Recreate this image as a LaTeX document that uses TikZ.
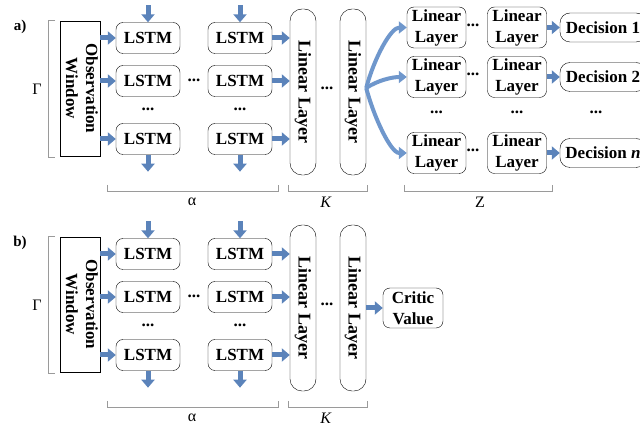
\documentclass[tikz,border=0pt]{standalone}
\usepackage{fontspec}
\setmainfont{Liberation Serif}
\usetikzlibrary{arrows.meta,positioning}
\definecolor{flowblue}{HTML}{5B83BA}
\definecolor{fanblue}{HTML}{6F97CC}
\definecolor{bracegray}{HTML}{9A9A9A}

\begin{document}
\begin{tikzpicture}[x=1pt,y=-1pt,>=Stealth,
 font=\fontsize{17}{20}\selectfont\bfseries,
 cell/.style={draw,rounded corners=7pt,minimum width=64pt,minimum height=31pt,
 inner sep=0pt},
 window/.style={draw,minimum width=40pt,minimum height=135pt,inner sep=0pt},
 tall/.style={draw,rounded corners=12pt,minimum width=26pt,minimum height=166pt,
 inner sep=0pt,font=\fontsize{18}{20}\selectfont\bfseries},
 head/.style={draw,rounded corners=7pt,align=center,minimum width=59pt,
 minimum height=41pt,inner sep=0pt,font=\fontsize{17}{21}\selectfont\bfseries},
 choice/.style={draw,rounded corners=10pt,minimum width=86pt,minimum height=29pt,
 inner sep=0pt},
 flow/.style={draw=flowblue,line width=5pt,-{Triangle[width=13pt,length=8pt]}},
 fan/.style={draw=fanblue,line width=4pt,-{Triangle[width=12pt,length=8pt]}},
 brace/.style={draw=bracegray,line width=0.8pt},
 tag/.style={font=\fontsize{16}{18}\selectfont}]
\useasboundingbox (0,0) rectangle (640,427);

\foreach \p/\dy in {a/0,b/216}{
 \node[tag,font=\fontsize{15}{18}\selectfont\bfseries] (\p tag) at (20,27+\dy) {\p)};
 \draw[brace] (55,20+\dy) -- (48,20+\dy) -- (48,157+\dy) -- (55,157+\dy);
 \node[tag] (\p gamma) at (37,89+\dy) {Γ};
 \node[window] (\p win) at (80,88.5+\dy)
 {\rotatebox{-90}{\begin{tabular}{@{}c@{}}Observation\\Window\end{tabular}}};
 \foreach \c/\x in {1/148,2/240}
 \foreach \r/\y in {1/38,2/81,3/139}
 \node[cell] (\p lstm\c\r) at (\x,\y+\dy) {LSTM};
 \node (\p dotsrow) at (194,80+\dy) {...};
 \node (\p dotsa) at (148,109+\dy) {...};
 \node (\p dotsb) at (240,109+\dy) {...};
 \node[tall] (\p lin1) at (303,92+\dy) {\rotatebox{-90}{Linear Layer}};
 \node[tall] (\p lin2) at (353,92+\dy) {\rotatebox{-90}{Linear Layer}};
 \node (\p dotslin) at (327,88+\dy) {...};
 \foreach \r in {1,2,3}{
 \draw[flow] (\p win.east |- \p lstm1\r) -- (\p lstm1\r.west);
 \draw[flow] (\p lstm2\r.east) -- (\p lstm2\r.east -| \p lin1.west);
 }
 \foreach \c in {1,2}{
 \draw[flow] ([yshift=17pt]\p lstm\c1.north) -- (\p lstm\c1.north);
 \draw[flow] (\p lstm\c3.south) -- ([yshift=-17pt]\p lstm\c3.south);
 }
 \draw[brace] (107,185+\dy) -- (107,191+\dy) -- (278,191+\dy) -- (278,185+\dy);
 \draw[brace] (288,185+\dy) -- (288,191+\dy) -- (367,191+\dy) -- (367,185+\dy);
 \node[tag] (\p alpha) at (192,202+\dy) {α};
 \node[tag] (\p kay) at (326,202+\dy) {\textit{K}};
}

\foreach \c/\x in {1/436.5,2/517}
 \foreach \r/\y in {1/27.5,2/77,3/153}
 \node[head] (head\c\r) at (\x,\y) {Linear\\Layer};
\node (hdots1) at (473,25) {...};
\node (hdots2) at (473,74) {...};
\node (hdots3) at (473,150) {...};
\node[choice] (dec1) at (603,27.5) {Decision 1};
\node[choice] (dec2) at (603,77) {Decision 2};
\node[choice] (dec3) at (603,153) {Decision \textit{n}};
\node (vdots1) at (436.5,112) {...};
\node (vdots2) at (517,112) {...};
\node (vdots3) at (596,112) {...};
\foreach \r in {1,2,3}
 \draw[flow] (head2\r.east) -- (dec\r.west);
\coordinate (fork) at ([yshift=4pt]alin2.east);
\draw[fan] (fork) .. controls +(8,-30) and +(-16,0) .. (head11.west);
\draw[fan] (fork) .. controls +(12,-8) and +(-14,0) .. (head12.west);
\draw[fan] (fork) .. controls +(8,30) and +(-16,0) .. (head13.west);
\draw[brace] (404,185) -- (404,191) -- (552,191) -- (552,185);
\node[tag] (zed) at (480,202) {Z};

\node[head,minimum width=60pt,minimum height=40pt] (critic) at (413,308)
 {Critic\\Value};
\draw[flow] (blin2.east) -- (critic.west);
\end{tikzpicture}
\end{document}
